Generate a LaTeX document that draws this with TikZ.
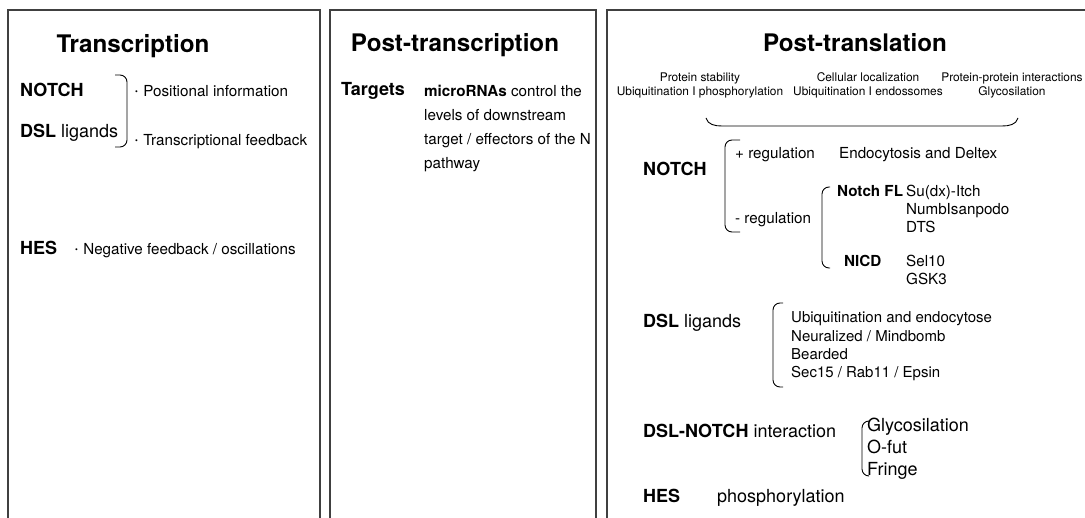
\documentclass[tikz,border=0pt]{standalone}
\usepackage{fontspec}
\setmainfont{TeX Gyre Heros}
\tikzset{
	every text node part/.style = {align=left},
	panel/.style = {draw=black!75, line width=1.2pt},
	bracket/.style = {line width=0.9pt, rounded corners=7pt},
	title/.style = {font=\fontsize{24.2}{28}\selectfont\bfseries, anchor=base},
	lbl/.style = {font=\fontsize{18}{22}\selectfont, anchor=base west},
	txt/.style = {font=\fontsize{15.2}{18}\selectfont, anchor=base west},
	lst/.style = {font=\fontsize{15}{18}\selectfont, anchor=base west},
	biglst/.style = {font=\fontsize{18}{22}\selectfont, anchor=base west},
	small/.style = {font=\fontsize{11.9}{14}\selectfont, anchor=base}
}
\newcommand{\dotitem}{\raisebox{0.3ex}{\fontsize{8}{8}\selectfont\textbullet}\hspace{0.35em}}

\begin{document}
\begin{tikzpicture}[x=1pt, y=-1pt]
	\useasboundingbox (0,0) rectangle (1085,518);
	\tikzstyle{every node}=[inner sep=0pt]
	
	% panels
	\draw [panel] (8,518) -- (8,10) -- (320,10) -- (320,518);
	\draw [panel] (330,518) -- (330,10) -- (596,10) -- (596,518);
	\draw [panel] (607,518) -- (607,10) -- (1090,10);
	
	% Transcription
	\node [title] (tr) at (133,53) {Transcription};
	\node [lbl] (tr-notch) at (20,97) {\textbf{NOTCH}};
	\node [lbl] (tr-dsl) at (20,138) {\textbf{DSL} ligands};
	\draw [bracket] (115,75) -- (127,75) -- (127,147) -- (115,147);
	\node [txt] (tr-pos) at (135,97) {\dotitem Positional information};
	\node [txt] (tr-fb) at (135,146) {\dotitem Transcriptional feedback};
	\node [lbl] (tr-hes) at (20,255) {\textbf{HES}};
	\node [txt] (tr-neg) at (75,255) {\dotitem Negative feedback / oscillations};
	
	% Post-transcription
	\node [title] (ptr) at (455,52) {Post-transcription};
	\node [lbl] (ptr-tg) at (341,96) {\textbf{Targets}};
	\foreach \l [count=\i] in {{\textbf{microRNAs} control the}, levels of downstream, target / effectors of the N, pathway}
		\node [txt] (ptr-\i) at (424,{97+24*(\i-1)}) {\l};
	
	% Post-translation
	\node [title] (ptl) at (855,52) {Post-translation};
	\foreach \x/\a/\b [count=\i] in {700/Protein stability/Ubiquitination I phosphorylation, 868/Cellular localization/Ubiquitination I endossomes, 1012/Protein-protein interactions/Glycosilation} {
		\node [small] (top-\i) at (\x,82) {\a};
		\node [small] (bot-\i) at (\x,96) {\b};
	}
	\draw [line width=0.9pt] (706,118) to[out=-75,in=180] (722,126) -- (1002,126) to[out=0,in=-105] (1018,118);
	
	\node [lbl] (ptl-notch) at (643,176) {\textbf{NOTCH}};
	\draw [bracket] (740,140) -- (725,140) -- (725,232) -- (740,232);
	\node [txt] (preg) at (735,159) {+ regulation};
	\node [txt] (endo) at (839,159) {Endocytosis and Deltex};
	\node [txt] (mreg) at (735,224) {- regulation};
	\draw [bracket] (830,187) -- (822,187) -- (822,268) -- (830,268);
	\node [txt] (nfl) at (837,197) {\textbf{Notch FL}};
	\foreach \l [count=\i] in {Su(dx)-Itch, NumbIsanpodo, DTS}
		\node [txt] (nfl-\i) at (906,{197+18*(\i-1)}) {\l};
	\node [txt] (nicd) at (844,267) {\textbf{NICD}};
	\foreach \l [count=\i] in {Sel10, GSK3}
		\node [txt] (nicd-\i) at (906,{267+18*(\i-1)}) {\l};
	
	\node [lbl] (ptl-dsl) at (643,328) {\textbf{DSL} ligands};
	\draw [bracket] (783,303) -- (773,303) -- (773,387) -- (783,387);
	\foreach \l [count=\i] in {Ubiquitination and endocytose, Neuralized / Mindbomb, Bearded, Sec15 / Rab11 / Epsin}
		\node [lst] (dsl-\i) at (791,{323+18.3*(\i-1)}) {\l};
	
	\node [lbl] (ptl-int) at (643,438) {\textbf{DSL-NOTCH} interaction};
	\draw [bracket] (868,421) -- (862,421) -- (862,476) -- (868,476);
	\foreach \l [count=\i] in {Glycosilation, O-fut, Fringe}
		\node [biglst] (int-\i) at (867,{432+22*(\i-1)}) {\l};
	
	\node [lbl] (ptl-hes) at (643,503) {\textbf{HES}};
	\node [lbl] (phos) at (717,503) {phosphorylation};
\end{tikzpicture}
\end{document}
